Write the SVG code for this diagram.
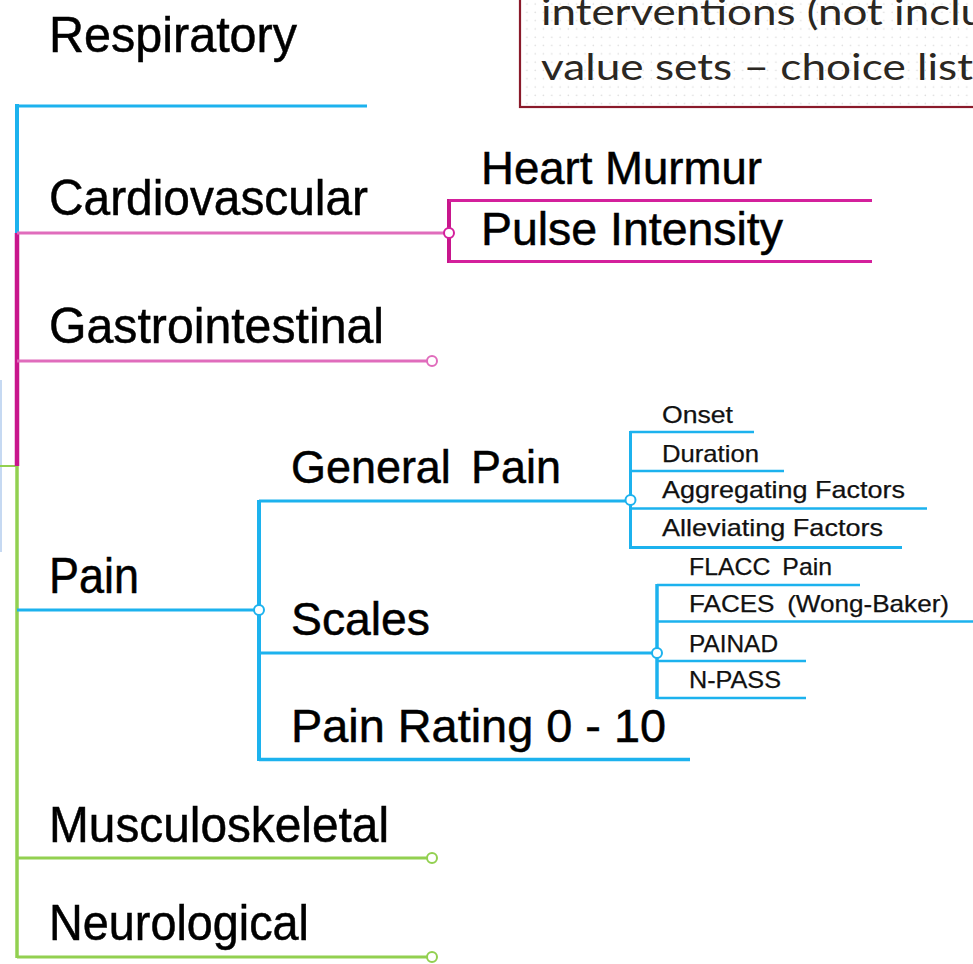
<svg xmlns="http://www.w3.org/2000/svg" width="973" height="964" viewBox="0 0 973 964">
  <style>
    .t1 { font-family: "Liberation Sans", Arial, sans-serif; font-size: 50px; fill: #000; stroke: #000; stroke-width: 0.5px; }
    .t2 { font-family: "Liberation Sans", Arial, sans-serif; font-size: 46px; fill: #000; stroke: #000; stroke-width: 0.5px; }
    .t3 { font-family: "Liberation Sans", Arial, sans-serif; font-size: 24px; fill: #111; stroke: #111; stroke-width: 0.25px; }
    .note { font-family: Lato, "Open Sans", sans-serif; font-size: 37px; fill: #2b2722; }
    .blue { stroke: #1cb2ee; fill: none; }
    .mag { stroke: #c8168c; fill: none; }
    .pink { stroke: #e06cbc; fill: none; }
    .green { stroke: #92d050; fill: none; }
    .dot { fill: #fff; stroke-width: 2; }
  </style>
  <defs>
    <pattern id="dots" width="8.3" height="8.3" patternUnits="userSpaceOnUse">
      <circle cx="4" cy="4" r="0.8" fill="#dcdcdc"/>
    </pattern>
  </defs>

  <rect width="973" height="964" fill="#fff"/>

  <!-- callout box, cut by the top and right edges -->
  <g id="note">
    <rect x="520" y="-10" width="470" height="117" fill="url(#dots)" stroke="#8a1a2a" stroke-width="2.2"/>
    <text class="note" x="541" y="25" textLength="444" lengthAdjust="spacingAndGlyphs">interventions (not inclu</text>
    <text class="note" x="541" y="80" textLength="432" lengthAdjust="spacingAndGlyphs">value sets – choice list</text>
  </g>

  <!-- connectors -->
  <g id="connectors" stroke-linecap="butt">
    <!-- faint edge of a neighbouring shape -->
    <line x1="1" y1="380" x2="1" y2="552" stroke="#c6d9f2" stroke-width="2"/>
    <line x1="0" y1="466" x2="17" y2="466" class="green" stroke-width="2"/>

    <!-- main trunk -->
    <line x1="17" y1="104" x2="17" y2="233" class="blue" stroke-width="4"/>
    <line x1="17" y1="233" x2="17" y2="466" class="mag" stroke-width="4.5"/>
    <line x1="17" y1="466" x2="17" y2="958" class="green" stroke-width="3.5"/>

    <!-- Respiratory -->
    <line x1="15" y1="106" x2="367" y2="106" class="blue" stroke-width="3"/>

    <!-- Cardiovascular -->
    <line x1="17" y1="233" x2="444" y2="233" class="pink" stroke-width="3"/>
    <line x1="449" y1="199" x2="449" y2="263" class="mag" stroke-width="4"/>
    <line x1="449" y1="200.5" x2="872" y2="200.5" stroke="#d4209c" stroke-width="3"/>
    <line x1="449" y1="261.5" x2="872" y2="261.5" stroke="#d4209c" stroke-width="3"/>
    <circle cx="449" cy="233" r="5" class="dot" stroke="#d4209c"/>

    <!-- Gastrointestinal -->
    <line x1="17" y1="361" x2="427" y2="361" class="pink" stroke-width="3"/>
    <circle cx="432" cy="361" r="5" class="dot" stroke="#e06cbc"/>

    <!-- Pain -->
    <line x1="17" y1="610" x2="254" y2="610" class="blue" stroke-width="3"/>
    <line x1="259" y1="500" x2="259" y2="761" class="blue" stroke-width="4"/>
    <line x1="259" y1="501" x2="626" y2="501" class="blue" stroke-width="3"/>
    <line x1="259" y1="653" x2="652" y2="653" class="blue" stroke-width="3"/>
    <line x1="259" y1="759.5" x2="690" y2="759.5" class="blue" stroke-width="3.5"/>
    <circle cx="259" cy="610" r="5" class="dot" stroke="#1cb2ee"/>

    <!-- General Pain children -->
    <line x1="630.5" y1="431" x2="630.5" y2="549" class="blue" stroke-width="3"/>
    <line x1="630" y1="432" x2="754" y2="432" class="blue" stroke-width="2.5"/>
    <line x1="630" y1="471" x2="784" y2="471" class="blue" stroke-width="2.5"/>
    <line x1="630" y1="508.5" x2="927" y2="508.5" class="blue" stroke-width="2.5"/>
    <line x1="630" y1="547.5" x2="902" y2="547.5" class="blue" stroke-width="3"/>
    <circle cx="630.5" cy="500" r="5" class="dot" stroke="#1cb2ee"/>

    <!-- Scales children -->
    <line x1="657" y1="584" x2="657" y2="699" class="blue" stroke-width="3.5"/>
    <line x1="657" y1="585" x2="860" y2="585" class="blue" stroke-width="2.5"/>
    <line x1="657" y1="621.5" x2="973" y2="621.5" class="blue" stroke-width="2.5"/>
    <line x1="657" y1="661" x2="806" y2="661" class="blue" stroke-width="2.5"/>
    <line x1="657" y1="698" x2="806" y2="698" class="blue" stroke-width="2.5"/>
    <circle cx="657" cy="653" r="5" class="dot" stroke="#1cb2ee"/>

    <!-- Musculoskeletal / Neurological -->
    <line x1="17" y1="858" x2="427" y2="858" class="green" stroke-width="3"/>
    <circle cx="432" cy="858" r="5" class="dot" stroke="#92d050"/>
    <line x1="17" y1="957" x2="427" y2="957" class="green" stroke-width="3"/>
    <circle cx="432" cy="957" r="5" class="dot" stroke="#92d050"/>
  </g>

  <!-- first level -->
  <g id="respiratory"><text class="t1" x="49" y="52" textLength="248" lengthAdjust="spacingAndGlyphs">Respiratory</text></g>
  <g id="cardiovascular"><text class="t1" x="49" y="215" textLength="319" lengthAdjust="spacingAndGlyphs">Cardiovascular</text></g>
  <g id="gastrointestinal"><text class="t1" x="49" y="343" textLength="335" lengthAdjust="spacingAndGlyphs">Gastrointestinal</text></g>
  <g id="pain"><text class="t1" x="49" y="593" textLength="90" lengthAdjust="spacingAndGlyphs">Pain</text></g>
  <g id="musculoskeletal"><text class="t1" x="49" y="842" textLength="340" lengthAdjust="spacingAndGlyphs">Musculoskeletal</text></g>
  <g id="neurological"><text class="t1" x="49" y="940" textLength="260" lengthAdjust="spacingAndGlyphs">Neurological</text></g>

  <!-- second level -->
  <g id="heart-murmur"><text class="t2" x="481" y="184" textLength="281" lengthAdjust="spacingAndGlyphs">Heart Murmur</text></g>
  <g id="pulse-intensity"><text class="t2" x="481" y="245" textLength="302" lengthAdjust="spacingAndGlyphs">Pulse Intensity</text></g>
  <g id="general-pain"><text class="t2" x="291" y="483" word-spacing="8" textLength="270" lengthAdjust="spacingAndGlyphs">General Pain</text></g>
  <g id="scales"><text class="t2" x="291" y="635" textLength="139" lengthAdjust="spacingAndGlyphs">Scales</text></g>
  <g id="pain-rating"><text class="t2" x="291" y="742" textLength="375" lengthAdjust="spacingAndGlyphs">Pain Rating 0 - 10</text></g>

  <!-- third level -->
  <g id="onset"><text class="t3" x="662" y="423" textLength="71" lengthAdjust="spacingAndGlyphs">Onset</text></g>
  <g id="duration"><text class="t3" x="662" y="462" textLength="97" lengthAdjust="spacingAndGlyphs">Duration</text></g>
  <g id="aggregating"><text class="t3" x="662" y="498" textLength="243" lengthAdjust="spacingAndGlyphs">Aggregating Factors</text></g>
  <g id="alleviating"><text class="t3" x="662" y="536" textLength="221" lengthAdjust="spacingAndGlyphs">Alleviating Factors</text></g>
  <g id="flacc"><text class="t3" x="689" y="575" word-spacing="5" textLength="143" lengthAdjust="spacingAndGlyphs">FLACC Pain</text></g>
  <g id="faces"><text class="t3" x="689" y="612" word-spacing="5" textLength="260" lengthAdjust="spacingAndGlyphs">FACES (Wong-Baker)</text></g>
  <g id="painad"><text class="t3" x="689" y="652" textLength="89" lengthAdjust="spacingAndGlyphs">PAINAD</text></g>
  <g id="npass"><text class="t3" x="689" y="688" textLength="92" lengthAdjust="spacingAndGlyphs">N-PASS</text></g>
</svg>
